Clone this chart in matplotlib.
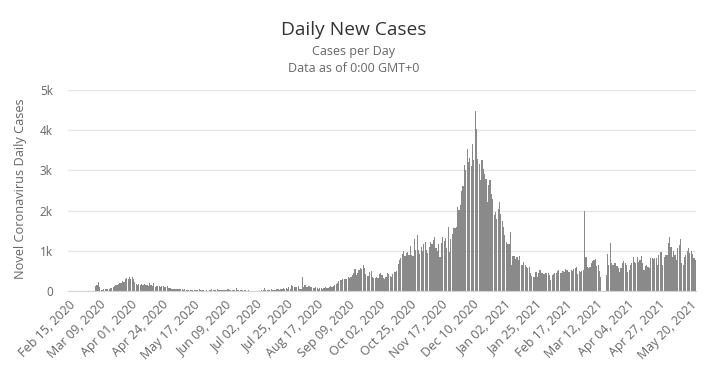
import pandas as pd
import matplotlib.pyplot as plt

plt.rcParams['font.family'] = ['Open Sans', 'DejaVu Sans']

# dias desde 15 fev 2020 ate 24 mai 2021
start_date = '2020-02-15'
daily_cases = [
    0, 0, 0, 0, 0, 0, 0, 0, 0, 0,
    0, 0, 1, 0, 0, 1, 2, 4, 5, 9,
    120, 160, 230, 110, 15, 35, 40, 45, 60, 55,
    50, 85, 80, 100, 130, 140, 160, 165, 190, 210,
    260, 230, 300, 320, 310, 340, 300, 360, 310, 230,
    185, 160, 175, 150, 170, 160, 165, 145, 150, 125,
    190, 150, 130, 190, 110, 130, 120, 125, 110, 120,
    125, 110, 100, 120, 70, 65, 60, 55, 50, 55,
    45, 50, 40, 45, 40, 35, 45, 30, 25, 35,
    25, 20, 30, 15, 25, 20, 10, 40, 35, 20,
    15, 10, 15, 10, 15, 20, 40, 20, 15, 25,
    40, 20, 30, 25, 20, 30, 25, 20, 50, 25,
    20, 25, 30, 20, 80, 20, 25, 30, 20, 15,
    25, 20, 10, 15, 5, 10, 8, 5, 10, 8,
    5, 10, 8, 25, 15, 65, 20, 15, 20, 25,
    40, 20, 35, 30, 40, 50, 30, 50, 40, 65,
    45, 85, 40, 110, 40, 150, 115, 90, 110, 90,
    125, 40, 50, 360, 100, 150, 90, 110, 125, 90,
    110, 85, 65, 100, 65, 50, 65, 80, 40, 65,
    90, 70, 80, 90, 125, 100, 130, 150, 180, 200,
    240, 270, 280, 300, 290, 300, 310, 340, 330, 360,
    400, 440, 550, 400, 440, 510, 560, 540, 640, 580,
    430, 370, 380, 480, 500, 350, 330, 320, 340, 320,
    420, 440, 400, 320, 300, 360, 450, 420, 380, 360,
    430, 480, 470, 500, 660, 780, 830, 920, 1000, 870,
    940, 970, 900, 1120, 900, 880, 1300, 1020, 1400, 1020,
    930, 1100, 1000, 1180, 1220, 1020, 950, 1100, 1220, 1180,
    1260, 1350, 1060, 1000, 1180, 850, 1200, 1350, 1250, 1320,
    1060, 1600, 980, 1300, 1430, 1560, 1570, 1600, 2080, 2020,
    2130, 2500, 2600, 3130, 3000, 3530, 3200, 3320, 3100, 3660,
    3250, 4490, 4030, 3290, 3170, 2750, 3250, 3040, 2900, 2790,
    2210, 2630, 2750, 2420, 2290, 1880, 1960, 1800, 2050, 2210,
    1920, 1750, 1600, 1390, 1220, 1180, 1170, 1470, 650, 880,
    870, 790, 850, 770, 880, 650, 640, 730, 650, 600,
    560, 600, 440, 380, 350, 360, 480, 350, 460, 520,
    440, 450, 430, 440, 450, 440, 400, 270, 400, 430,
    440, 440, 500, 520, 460, 440, 500, 480, 550, 520,
    480, 470, 520, 500, 540, 560, 600, 420, 500, 480,
    500, 520, 1990, 850, 600, 580, 600, 700, 750, 770,
    800, 620, 640, 500, 340, 0, 0, 0, 400, 930,
    640, 1200, 690, 640, 690, 700, 620, 560, 480, 560,
    690, 740, 700, 640, 480, 520, 640, 700, 850, 720,
    690, 850, 720, 780, 870, 690, 520, 620, 640, 600,
    560, 810, 830, 790, 810, 830, 640, 900, 980, 980,
    640, 850, 890, 890, 1200, 1350, 1100, 850, 1000, 890,
    760, 1060, 1140, 1300, 700, 650, 850, 890, 1000, 1070,
    950, 1000, 920, 810, 780,
]
y_ticks = [0, 1000, 2000, 3000, 4000, 5000]
y_tick_labels = ['0', '1k', '2k', '3k', '4k', '5k']
label_step = 23

dates = pd.date_range(start_date, periods=len(daily_cases), freq='D')
x = list(range(len(daily_cases)))

fig = plt.figure(figsize=(7.08, 3.74), dpi=100)
ax = fig.add_axes([68 / 708, 1 - 291 / 374, 628 / 708, 201 / 374])

ax.bar(x, daily_cases, width=0.85, color='#8a8a8a', linewidth=0)

ax.set_xlim(-0.5, len(daily_cases) - 0.5)
ax.set_ylim(0, 5000)
ax.set_yticks(y_ticks)
ax.set_yticklabels(y_tick_labels)

tick_pos = x[::label_step]
ax.set_xticks(tick_pos)
ax.set_xticklabels([dates[i].strftime('%b %d, %Y') for i in tick_pos],
                   rotation=45, ha='right', rotation_mode='anchor')

ax.grid(axis='y', color='#e6e6e6', linewidth=1)
ax.set_axisbelow(True)
for s in ['top', 'right', 'left']:
    ax.spines[s].set_visible(False)
ax.spines['bottom'].set_color('#ccd6eb')
ax.tick_params(axis='y', length=0, pad=11, labelsize=8.5, labelcolor='#666666')
ax.tick_params(axis='x', length=0, pad=5, labelsize=9, labelcolor='#666666')

fig.text(0.5, 1 - 30 / 374, 'Daily New Cases', ha='center', va='center',
         fontsize=13.8, color='#333333')
fig.text(0.5, 1 - 51 / 374, 'Cases per Day', ha='center', va='center',
         fontsize=9, color='#666666')
fig.text(0.5, 1 - 68 / 374, 'Data as of 0:00 GMT+0', ha='center', va='center',
         fontsize=9, color='#666666')
fig.text(21 / 708, 1 - 189 / 374, 'Novel Coronavirus Daily Cases', rotation=90,
         ha='center', va='center', fontsize=9.2, color='#666666')

fig.savefig('out.png', dpi=100)
